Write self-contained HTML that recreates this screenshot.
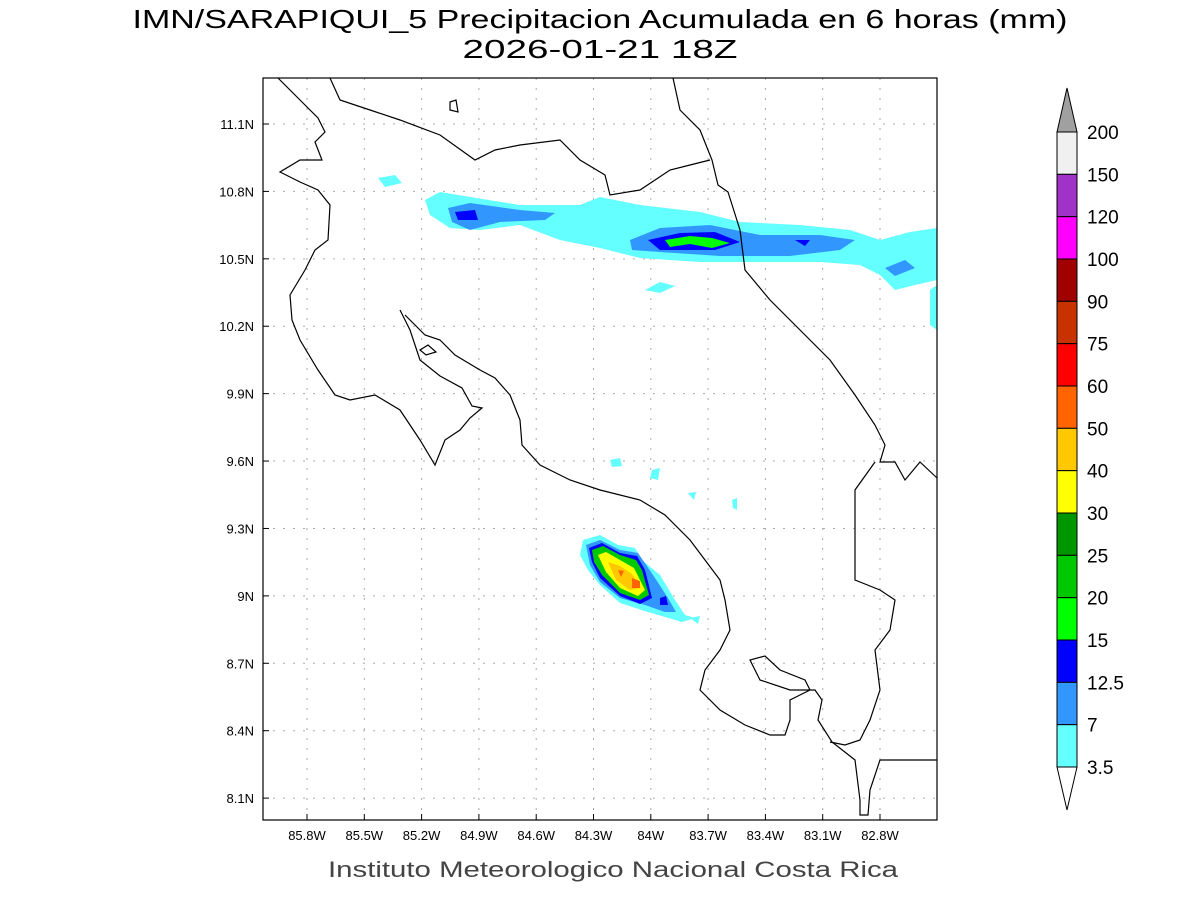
<!DOCTYPE html>
<html><head><meta charset="utf-8"><style>
html,body{margin:0;padding:0;background:#fff;}
svg{display:block;font-family:"Liberation Sans",sans-serif;}
</style></head><body>
<svg id="chart" width="1200" height="900" viewBox="0 0 1200 900">
<text x="600" y="28" font-size="26" text-anchor="middle" fill="#000" textLength="935" lengthAdjust="spacingAndGlyphs">IMN/SARAPIQUI_5 Precipitacion Acumulada en 6 horas (mm)</text>
<text x="600" y="58" font-size="26" text-anchor="middle" fill="#000" textLength="275" lengthAdjust="spacingAndGlyphs">2026-01-21 18Z</text>
<g id="grid"></g>
<g id="precip">
 <path d="M425,200 L440,192 L470,197 L520,205 L580,205 L600,197 L640,205 L700,212 L740,222 L800,225 L850,230 L880,240 L910,232 L937,228 L937,280 L915,285 L895,290 L880,275 L860,265 L820,262 L760,262 L700,262 L640,258 L600,248 L560,240 L520,225 L480,230 L450,228 L430,215 Z" fill="#64ffff"/>
 <path d="M645,290 L660,282 L675,286 L660,293 Z M378,178 L395,175 L402,183 L385,187 Z M930,290 L937,285 L937,330 L930,325 Z" fill="#64ffff"/>
 <path d="M448,208 L470,203 L520,210 L555,213 L545,220 L500,222 L470,230 L452,222 Z M630,240 L660,228 L710,225 L760,235 L820,235 L855,240 L840,250 L790,256 L720,256 L660,252 L632,250 Z M885,268 L905,260 L915,268 L895,276 Z" fill="#3296ff"/>
 <path d="M455,212 L475,210 L478,220 L458,220 Z M648,240 L680,233 L715,232 L740,242 L715,250 L660,250 Z M795,240 L810,240 L805,246 Z" fill="#0000ff"/>
 <path d="M665,240 L690,236 L712,238 L730,243 L712,248 L690,244 L670,247 Z" fill="#00ff00"/>
 <path d="M583,540 L600,535 L618,545 L635,548 L642,560 L660,575 L675,600 L685,615 L695,618 L682,622 L665,617 L648,612 L620,603 L600,585 L588,570 L580,555 Z M610,460 L620,458 L622,466 L612,467 Z M652,470 L660,468 L658,480 L650,478 Z M688,493 L696,492 L694,500 Z M732,500 L737,498 L737,510 L733,508 Z M690,618 L700,616 L698,624 Z" fill="#64ffff"/>
 <path d="M586,545 L600,540 L620,550 L638,553 L655,578 L668,598 L676,612 L665,612 L645,605 L620,598 L600,582 L590,565 Z" fill="#3296ff"/>
 <path d="M589,548 L602,543 L620,553 L637,556 L645,570 L652,598 L640,604 L620,596 L600,578 L592,562 Z M660,598 L666,596 L668,605 L660,605 Z" fill="#0000ff"/>
 <path d="M592,550 L603,546 L620,555 L636,560 L642,570 L649,595 L640,600 L620,593 L602,575 L594,562 Z" fill="#00c800"/>
 <path d="M598,555 L606,552 L620,560 L634,568 L645,590 L638,596 L620,588 L606,572 Z" fill="#ffff00"/>
 <path d="M608,562 L620,566 L632,574 L641,588 L630,590 L616,580 Z" fill="#ffc800"/>
 <path d="M618,570 L624,571 L621,577 Z M632,578 L640,581 L640,588 L632,588 Z" fill="#ff6400"/>
</g>
<g fill="none" stroke="#000" stroke-width="1.2">
 <path d="M278,78 L300,100 L318,118 L325,132 L315,142 L322,160 L300,160 L280,172 L300,182 L318,190 L330,205 L328,240 L315,250 L305,270 L290,295 L292,320 L300,340 L318,370 L335,395 L350,400 L375,395 L400,410 L420,440 L435,465 L445,440 L460,430 L470,418 L482,408 L472,406 L462,388 L440,376 L420,360 L410,330 L400,310"/>
 <path d="M405,315 L412,322 L425,335 L440,340 L455,355 L480,370 L495,378 L510,395 L520,420 L522,445 L540,465 L570,480 L600,490 L640,500 L665,515 L690,540 L705,560 L720,580 L725,600 L730,630 L720,650 L705,670 L700,690 L720,710 L745,725 L770,735 L785,735 L790,720 L790,700 L810,690 L805,680 L780,670 L765,656 L750,660 L760,680 L790,690 L815,690 L822,700 L818,720 L832,742 L855,760 L860,800 L860,815 L868,815 L870,790 L880,760 L937,760"/>
 <path d="M420,350 L428,345 L436,352 L426,355 Z M450,102 L456,100 L458,112 L450,110 Z"/>
 <path d="M330,78 L340,100 L370,110 L400,120 L440,135 L475,160 L495,150 L520,145 L560,140 L580,160 L605,175 L610,195 L640,190 L670,170 L690,165 L710,160"/>
 <path d="M673,78 L680,110 L700,130 L712,160 L718,185 L728,192 L740,230 L745,270 L770,300 L800,330 L830,360 L855,395 L875,425 L885,445 L880,462 L895,462 L905,480 L920,462 L937,478"/>
 <path d="M875,462 L855,490 L855,580 L880,590 L895,600 L890,630 L875,650 L880,690 L870,720 L860,740 L845,745 L830,742"/>
</g>
<rect x="263" y="78" width="674" height="742" fill="none" stroke="#000" stroke-width="1.2"/>
<g id="xt"></g>
<g id="yt"></g>
<g id="cb"></g>
<text x="613" y="877" font-size="22" text-anchor="middle" fill="#444" textLength="570" lengthAdjust="spacingAndGlyphs">Instituto Meteorologico Nacional Costa Rica</text>
</svg>
<script>
const lonTicks=[85.8,85.5,85.2,84.9,84.6,84.3,84.0,83.7,83.4,83.1,82.8];
const lonLabels=["85.8W","85.5W","85.2W","84.9W","84.6W","84.3W","84W","83.7W","83.4W","83.1W","82.8W"];
const latTicks=[11.1,10.8,10.5,10.2,9.9,9.6,9.3,9.0,8.7,8.4,8.1];
const latLabels=["11.1N","10.8N","10.5N","10.2N","9.9N","9.6N","9.3N","9N","8.7N","8.4N","8.1N"];
const levels=["200","150","120","100","90","75","60","50","40","30","25","20","15","12.5","7","3.5"];
const colors=["#f0f0f0","#a032c8","#ff00ff","#a00000","#c83200","#ff0000","#ff6400","#ffc800","#ffff00","#009600","#00c800","#00ff00","#0000ff","#3296ff","#64ffff"];
const NS="http://www.w3.org/2000/svg";
const xS=l=>307+(85.8-l)*191;
const yS=l=>124+(11.1-l)*224.7;
function mk(t,a,p){const e=document.createElementNS(NS,t);for(const k in a)e.setAttribute(k,a[k]);p.appendChild(e);return e;}
const grid=document.getElementById('grid'),xt=document.getElementById('xt'),yt=document.getElementById('yt'),cb=document.getElementById('cb');
lonTicks.forEach((l,i)=>{const x=xS(l);
 const g=mk('line',{x1:x,x2:x,y1:78,y2:820,stroke:'#aaa','stroke-dasharray':'2,8'},grid);
 
 
 mk('line',{x1:x,x2:x,y1:820,y2:814,stroke:'#000'},xt);
 const t=mk('text',{x:x,y:840,'font-size':13,'text-anchor':'middle'},xt);t.textContent=lonLabels[i];
 
 });
latTicks.forEach((l,i)=>{const y=yS(l);
 const g=mk('line',{x1:263,x2:937,y1:y,y2:y,stroke:'#aaa','stroke-dasharray':'2,8'},grid);
 
 
 mk('line',{x1:263,x2:269,y1:y,y2:y,stroke:'#000'},yt);
 const t=mk('text',{x:254,y:y+5,'font-size':13,'text-anchor':'end'},yt);t.textContent=latLabels[i];
 
 });
const cbTop=132,step=(767-132)/colors.length;
const tri=mk('path',{d:`M1057,${cbTop} L1067,88 L1077,${cbTop} Z`,fill:'#a0a0a0',stroke:'#000'},cb);


colors.forEach((c,i)=>{const r=mk('rect',{x:1057,y:cbTop+i*step,width:20,height:step,fill:c,stroke:'#000'},cb);
 
 });
const tb=mk('path',{d:`M1057,767 L1067,810 L1077,767 Z`,fill:'#fff',stroke:'#000'},cb);


levels.forEach((v,i)=>{const t=mk('text',{x:1087,y:cbTop+i*step+7,'font-size':19},cb);t.textContent=v;
 
 });
</script>
</body></html>
